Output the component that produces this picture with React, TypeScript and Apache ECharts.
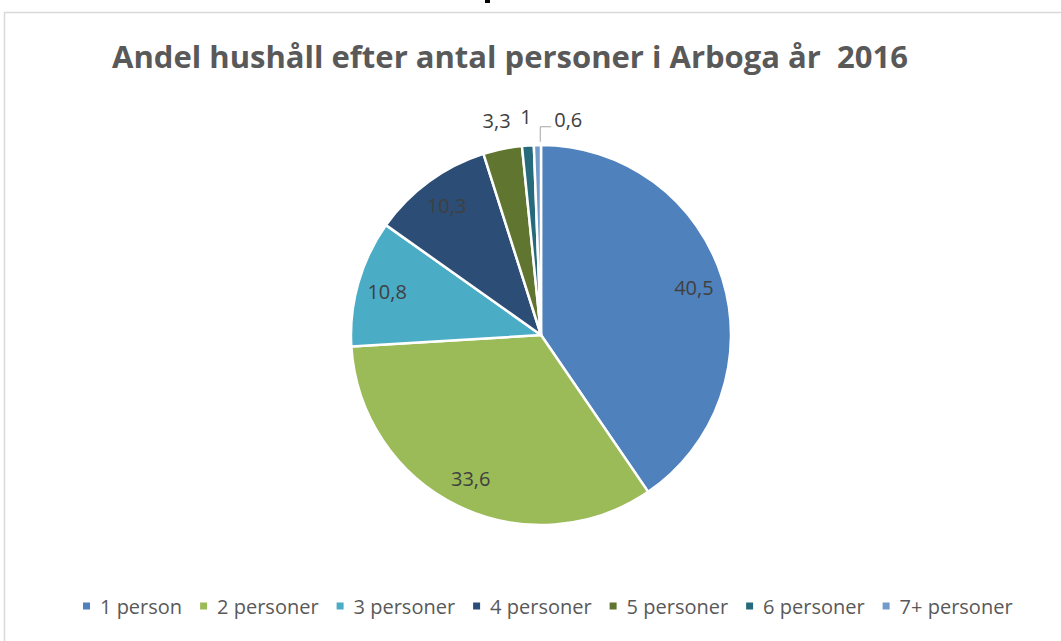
import React, { useEffect, useRef } from "react";
import * as echarts from "echarts";

const categories = ["1 person", "2 personer", "3 personer", "4 personer", "5 personer", "6 personer", "7+ personer"];
const values = [40.5, 33.6, 10.8, 10.3, 3.3, 1, 0.6];
const labelTexts = ["40,5", "33,6", "10,8", "10,3", "3,3", "1", "0,6"];
const colors = ["#4F81BD", "#9BBB59", "#4BACC6", "#2C4D75", "#5F7530", "#276A7C", "#729ACA"];
const titleText = "Andel hushåll efter antal personer i Arboga år  2016";

const FONT = "'Open Sans', 'Noto Sans', sans-serif";
const CENTER: [number, number] = [541, 335];
const R = 190;

export default function App() {
  const ref = useRef<HTMLDivElement>(null);
  useEffect(() => {
    if (!ref.current) return;
    const chart = echarts.init(ref.current, null, { renderer: "svg" });
    const labelStyle = { fontFamily: FONT, fontSize: 20, color: "#404040" };

    const mainData = values.map((v, i) => ({
      name: categories[i],
      value: v,
      itemStyle: { color: colors[i] },
      label: { show: i === 6, formatter: labelTexts[i] },
      labelLine: { show: i === 6 },
    }));
    const innerLabelData = values.map((v, i) => ({
      name: categories[i],
      value: v,
      label: { show: i < 4, formatter: labelTexts[i] },
    }));
    const outerLabelData = values.map((v, i) => ({
      name: categories[i],
      value: v,
      label: { show: i === 4 || i === 5, formatter: labelTexts[i] },
    }));

    chart.setOption({
      animation: false,
      backgroundColor: "#ffffff",
      title: {
        text: titleText,
        left: 505,
        top: 35,
        textAlign: "center",
        textStyle: { fontFamily: FONT, fontSize: 31, fontWeight: "bold", color: "#595959" },
      },
      legend: {
        data: categories,
        bottom: 20,
        left: 76,
        icon: "rect",
        itemWidth: 9,
        itemHeight: 9,
        itemGap: 16,
        textStyle: { fontFamily: FONT, fontSize: 20, color: "#595959", padding: [0, 0, 0, 4] },
        selectedMode: false,
      },
      graphic: [
        {
          type: "rect",
          shape: { x: 4.5, y: 12.5, width: 1200, height: 800 },
          style: { fill: "none", stroke: "#d9d9d9", lineWidth: 1.5 },
          silent: true,
        },
        {
          type: "rect",
          shape: { x: 485, y: 0, width: 5, height: 3 },
          style: { fill: "#000000" },
          silent: true,
        },
      ],
      series: [
        {
          type: "pie",
          center: CENTER,
          radius: R,
          startAngle: 90,
          clockwise: true,
          avoidLabelOverlap: false,
          itemStyle: { borderColor: "#ffffff", borderWidth: 2.5 },
          label: { position: "outside", ...labelStyle },
          labelLine: { lineStyle: { color: "#a6a6a6", width: 1 }, length: 10, length2: 10 },
          labelLayout: (p: any) => {
            if (p.dataIndex !== 6) return {};
            const right = p.rect.x + p.rect.width;
            const top = p.rect.y;
            return {
              x: right + 12,
              y: top - 24,
              align: "left",
              verticalAlign: "middle",
              labelLinePoints: [
                [right - 2, top - 2],
                [right - 2, top - 17],
                [right + 9, top - 17],
              ],
            };
          },
          emphasis: { disabled: true },
          data: mainData,
        },
        {
          type: "pie",
          center: CENTER,
          radius: [124, R],
          startAngle: 90,
          clockwise: true,
          silent: true,
          avoidLabelOverlap: false,
          itemStyle: { color: "rgba(0,0,0,0)", borderWidth: 0 },
          label: { position: "inside", ...labelStyle },
          labelLine: { show: false },
          emphasis: { disabled: true },
          data: innerLabelData,
        },
        {
          type: "pie",
          center: CENTER,
          radius: [204, 228],
          startAngle: 90,
          clockwise: true,
          silent: true,
          avoidLabelOverlap: false,
          itemStyle: { color: "rgba(0,0,0,0)", borderWidth: 0 },
          label: { position: "inside", ...labelStyle },
          labelLine: { show: false },
          emphasis: { disabled: true },
          data: outerLabelData,
        },
      ],
    });
    return () => chart.dispose();
  }, []);
  return (
    <div
      ref={ref}
      style={{ position: "fixed", left: 0, top: 0, width: 1061, height: 641, background: "#fff" }}
    />
  );
}
